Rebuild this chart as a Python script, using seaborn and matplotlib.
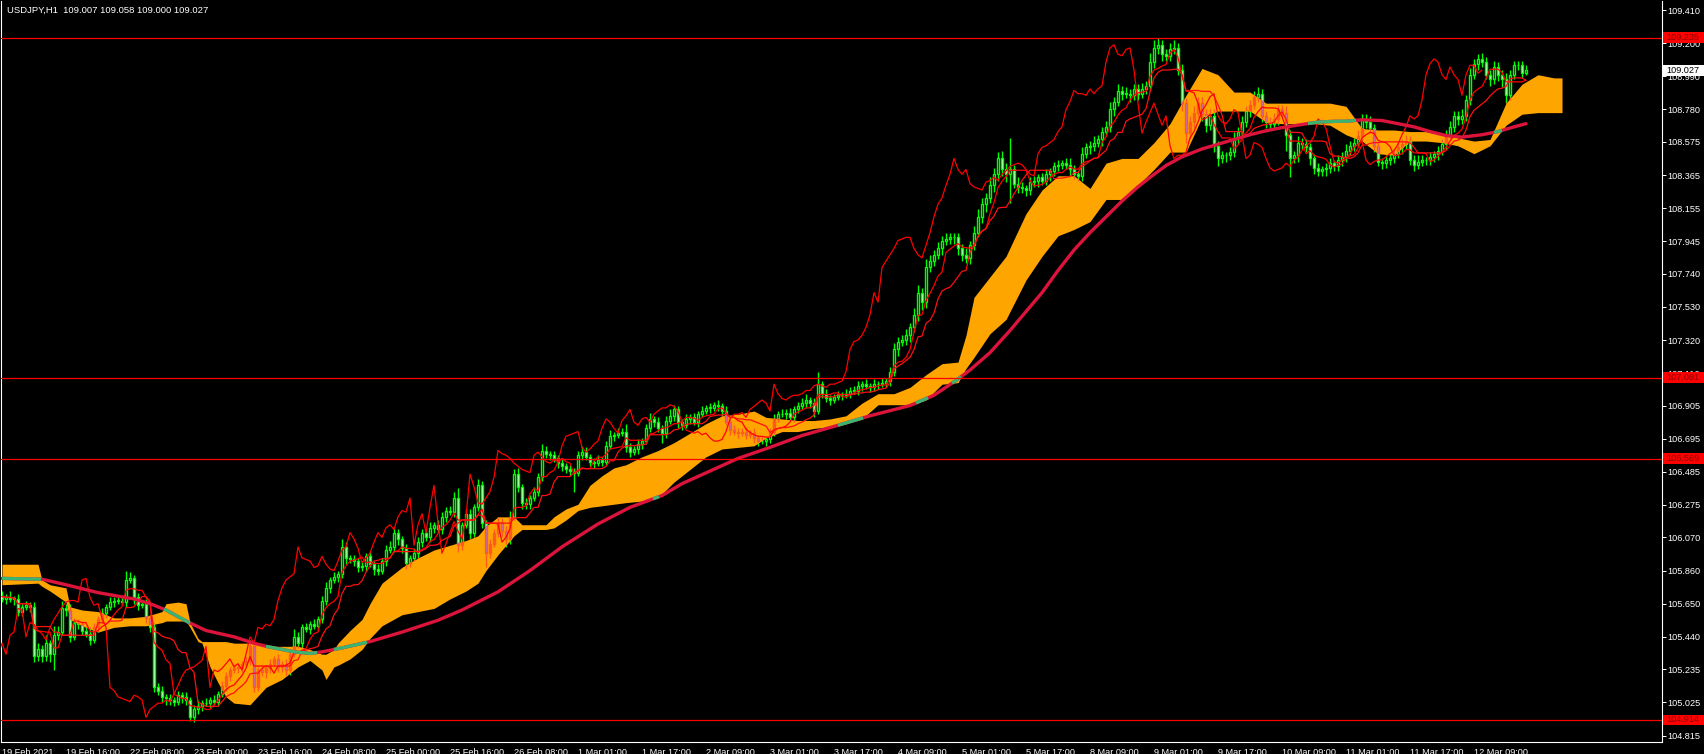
import numpy as np
import pandas as pd
import matplotlib
matplotlib.use("Agg")
import matplotlib.pyplot as plt
import matplotlib.transforms as mtrans
from matplotlib.patches import Rectangle
import seaborn as sns

TITLE = "USDJPY,H1  109.007 109.058 109.000 109.027"
BASE = 104.0          # prices below are pips above this
first_open_pips = 170

# hourly closes, one per bar from 19 Feb 00:00 (pips above BASE)
close_pips = [
    168, 169, 168, 168, 160, 163, 164, 163, 132, 136,
    132, 140, 133, 145, 147, 162, 161, 144, 153, 152,
    148, 146, 142, 150, 155, 159, 163, 166, 167, 167,
    166, 180, 181, 169, 164, 165, 156, 150, 112, 110,
    106, 105, 104, 103, 107, 106, 104, 93, 98, 100,
    102, 102, 104, 103, 108, 113, 119, 123, 124, 125,
    127, 129, 138, 112, 123, 122, 124, 127, 130, 125,
    127, 123, 133, 144, 140, 150, 149, 152, 151, 155,
    167, 175, 180, 182, 184, 201, 194, 193, 192, 188,
    189, 195, 190, 187, 186, 192, 199, 201, 210, 206,
    200, 191, 194, 197, 204, 210, 207, 213, 215, 212,
    220, 224, 223, 232, 202, 215, 222, 210, 226, 240,
    216, 197, 203, 210, 217, 211, 206, 220, 247, 239,
    229, 228, 232, 236, 245, 262, 260, 259, 257, 254,
    252, 250, 249, 248, 259, 261, 258, 255, 254, 256,
    255, 265, 271, 272, 273, 274, 264, 261, 263, 266,
    268, 276, 282, 280, 276, 273, 281, 284, 288, 280,
    278, 282, 283, 280, 285, 287, 289, 289, 291, 290,
    287, 280, 275, 274, 273, 274, 272, 273, 270, 268,
    268, 269, 274, 282, 285, 285, 286, 283, 288, 290,
    292, 294, 292, 287, 304, 298, 295, 294, 296, 297,
    297, 298, 300, 300, 303, 304, 303, 302, 304, 304,
    305, 306, 312, 326, 331, 332, 335, 340, 348, 362,
    356, 378, 382, 386, 390, 395, 396, 397, 397, 390,
    386, 384, 392, 400, 410, 418, 422, 430, 437, 447,
    440, 437, 440, 431, 429, 428, 427, 432, 433, 435,
    433, 437, 439, 442, 443, 444, 443, 440, 437, 436,
    450, 454, 455, 457, 459, 464, 467, 478, 483, 490,
    488, 488, 487, 491, 488, 491, 493, 508, 517, 519,
    513, 512, 516, 517, 503, 482, 463, 470, 476, 482,
    475, 468, 474, 455, 447, 449, 449, 451, 460, 464,
    470, 477, 481, 486, 488, 474, 470, 469, 472, 478,
    476, 462, 447, 449, 457, 456, 454, 447, 441, 439,
    440, 441, 444, 442, 446, 448, 452, 455, 457, 461,
    472, 470, 466, 455, 445, 444, 446, 447, 450, 454,
    456, 458, 446, 443, 445, 446, 446, 448, 450, 452,
    456, 462, 467, 474, 472, 474, 484, 500, 507, 510,
    508, 500, 497, 505, 500, 497, 487, 500, 506, 506,
    501, 503,
]

# wick lengths above / below the body (pips)
up_wick = [
    3, 2, 4, 2, 3, 2, 3, 2, 3, 4, 3, 5, 2, 6, 4, 5, 3, 4, 3, 2,
    2, 3, 4, 3, 2, 3, 2, 3, 2, 2, 3, 6, 4, 2, 3, 2, 3, 2, 3, 3,
    3, 2, 3, 2, 3, 2, 3, 2, 3, 4, 2, 3, 2, 3, 2, 3, 3, 2, 3, 2,
    2, 3, 4, 3, 2, 3, 2, 3, 2, 3, 2, 3, 3, 5, 3, 2, 3, 2, 3, 2,
    3, 4, 2, 3, 2, 5, 3, 2, 3, 2, 3, 2, 3, 2, 3, 2, 3, 4, 3, 2,
    2, 3, 2, 3, 3, 2, 3, 4, 2, 3, 3, 2, 3, 4, 6, 2, 3, 3, 2, 4,
    3, 2, 3, 2, 3, 2, 3, 4, 3, 4, 2, 3, 2, 3, 3, 4, 3, 2, 3, 2,
    3, 2, 3, 2, 3, 4, 3, 2, 2, 3, 2, 3, 4, 2, 3, 2, 5, 3, 2, 3,
    2, 3, 4, 2, 3, 2, 3, 4, 3, 2, 2, 3, 2, 3, 2, 3, 2, 3, 2, 3,
    2, 3, 2, 3, 2, 2, 3, 2, 3, 2, 3, 2, 2, 3, 2, 3, 2, 3, 2, 3,
    3, 4, 2, 3, 8, 2, 3, 2, 2, 3, 2, 3, 2, 3, 3, 2, 3, 2, 3, 2,
    3, 2, 3, 4, 3, 3, 4, 3, 4, 5, 3, 5, 4, 3, 4, 3, 4, 3, 3, 3,
    3, 4, 3, 4, 5, 4, 3, 5, 4, 4, 5, 4, 20, 3, 4, 3, 2, 3, 3, 2,
    3, 3, 2, 3, 3, 2, 3, 4, 3, 2, 4, 3, 3, 4, 3, 3, 4, 5, 3, 4,
    3, 4, 3, 3, 3, 4, 3, 6, 5, 4, 3, 3, 4, 5, 3, 4, 3, 4, 4, 4,
    4, 3, 4, 4, 3, 3, 2, 3, 4, 3, 4, 3, 3, 4, 4, 3, 3, 3, 4, 3,
    3, 4, 3, 3, 4, 3, 3, 3, 3, 3, 2, 3, 3, 2, 3, 3, 4, 3, 3, 4,
    3, 3, 4, 3, 3, 2, 3, 3, 3, 4, 3, 4, 3, 3, 4, 3, 2, 3, 2, 3,
    3, 3, 4, 3, 3, 4, 3, 4, 3, 3, 4, 3, 3, 4, 3, 3, 4, 3, 3, 3,
    3, 3,
]
dn_wick = [
    2, 3, 2, 4, 3, 3, 2, 3, 4, 3, 4, 3, 5, 10, 3, 2, 4, 3, 2, 3,
    3, 2, 3, 2, 3, 2, 3, 2, 3, 2, 2, 3, 2, 4, 3, 2, 3, 3, 3, 3,
    3, 4, 3, 3, 2, 4, 3, 2, 3, 3, 3, 2, 3, 2, 3, 2, 3, 3, 2, 3,
    3, 2, 3, 3, 2, 3, 4, 3, 2, 3, 3, 4, 3, 2, 3, 3, 2, 3, 2, 3,
    2, 3, 3, 2, 3, 3, 4, 2, 3, 3, 2, 3, 2, 4, 3, 2, 3, 2, 3, 4,
    3, 4, 3, 2, 3, 3, 2, 3, 3, 2, 3, 3, 2, 3, 4, 3, 2, 4, 3, 2,
    3, 9, 3, 2, 3, 4, 5, 3, 2, 3, 4, 3, 3, 2, 3, 2, 3, 3, 2, 3,
    3, 2, 3, 12, 2, 3, 2, 3, 3, 2, 3, 2, 2, 3, 2, 2, 3, 3, 2, 3,
    3, 2, 2, 3, 2, 6, 3, 2, 3, 4, 3, 2, 3, 2, 3, 2, 2, 3, 2, 3,
    3, 2, 3, 2, 3, 2, 3, 2, 3, 3, 2, 3, 2, 3, 2, 2, 3, 2, 3, 2,
    2, 3, 3, 4, 2, 3, 2, 3, 2, 2, 3, 2, 3, 2, 3, 3, 2, 3, 2, 3,
    2, 3, 3, 3, 4, 3, 3, 4, 3, 4, 5, 4, 3, 3, 3, 4, 3, 3, 4, 4,
    4, 3, 4, 3, 3, 4, 5, 3, 4, 4, 4, 5, 18, 3, 4, 3, 4, 3, 3, 4,
    3, 3, 4, 3, 3, 3, 3, 4, 3, 3, 3, 3, 4, 3, 3, 4, 3, 3, 4, 3,
    4, 3, 4, 3, 4, 3, 3, 3, 4, 4, 4, 3, 3, 3, 3, 5, 6, 4, 4, 3,
    4, 4, 3, 4, 5, 3, 4, 3, 3, 4, 3, 3, 4, 3, 3, 4, 4, 3, 3, 4,
    3, 10, 12, 3, 4, 3, 3, 4, 4, 3, 3, 4, 3, 3, 3, 4, 3, 3, 3, 3,
    3, 4, 3, 4, 3, 4, 3, 3, 3, 3, 4, 3, 3, 4, 3, 3, 3, 3, 3, 4,
    3, 3, 3, 3, 4, 3, 3, 3, 3, 4, 3, 3, 4, 3, 4, 5, 5, 3, 3, 3,
    3, 1,
]

# slow moving average
ma_bar = [0, 10, 16, 24, 33, 37, 41, 46, 51, 58, 63, 66, 73, 77, 80, 85, 92, 100,
          109, 115, 124, 132, 140, 149, 157, 165, 170, 177, 184, 192, 200, 209,
          217, 227, 233, 238, 242, 247, 252, 256, 260, 264, 268, 272, 276, 280,
          284, 287, 291, 295, 300, 304, 308, 312, 316, 320, 325, 329, 333, 336,
          340, 345, 349, 353, 357, 361, 365, 370, 374, 378, 381]
ma_pips = [181, 180.5, 177, 172, 168, 165, 161, 154, 148, 144, 140, 138, 134.5,
           133.5, 134.5, 137, 141, 147, 154.5, 161, 172.5, 186, 201, 215.5, 226,
           233.5, 241, 249, 257, 264, 271.5, 278, 284, 290.5, 297, 305.5, 313,
           324, 338, 350, 362, 376, 389, 400, 410, 420, 429, 435, 442.5, 448,
           453, 456, 459, 462, 464.5, 466.5, 468.5, 470, 470.5, 470.5, 471.5,
           471, 469, 467, 464, 461.5, 460.5, 462, 464, 467, 469]

# kumo (cloud) upper / lower edge
kumo_bar = [0, 9, 10, 12, 16, 17, 20, 24, 28, 32, 36, 40, 41, 44, 46, 47, 49, 50,
            52, 54, 56, 58, 62, 66, 70, 74, 77, 80, 81, 83, 84, 87, 90, 92, 95,
            100, 104, 108, 112, 116, 119, 121, 124, 128, 130, 136, 138, 141, 144,
            147, 150, 153, 156, 160, 164, 168, 172, 176, 180, 184, 188, 191, 195,
            199, 203, 207, 211, 215, 219, 223, 227, 231, 235, 239, 241, 243, 247,
            251, 256, 260, 264, 268, 272, 276, 280, 284, 288, 292, 296, 300, 304,
            308, 312, 316, 320, 324, 328, 332, 336, 340, 344, 348, 352, 356, 360,
            364, 368, 372, 376, 380, 384, 388, 390]
kumo_top = [190, 190, 180, 177, 175, 163, 161, 160, 156, 156, 157, 160, 165, 166,
            165, 153, 143, 141, 141, 141, 141, 140, 140, 138, 138, 138, 136, 133,
            133, 136, 140, 148, 155, 165, 178, 188, 194, 199, 202, 205, 208, 214,
            220, 220, 215, 215, 220, 225, 228, 240, 246, 251, 253, 258, 262, 267,
            273, 279, 284, 285, 287, 283, 282, 281, 281, 282, 284, 292, 298, 298,
            302, 310, 317, 318, 335, 359, 372, 385, 412, 427, 436, 436, 428, 444,
            447, 447, 457, 469, 487, 504, 500, 489, 489, 482, 482, 482, 482, 482,
            480, 466, 465, 465, 464, 464, 462, 460, 458, 459, 482, 494, 500, 498,
            498]
kumo_bot = [177, 178, 176, 173, 166, 155, 151, 147, 150, 151, 151, 153, 154, 154,
            154, 150, 141, 140, 125, 115, 106, 102, 101, 112, 117, 125, 129, 123,
            117, 125, 126, 130, 136, 143, 151, 158, 160, 162, 168, 173, 178, 186,
            196, 208, 212, 212, 213, 218, 224, 226, 227, 228, 229, 230, 232, 242,
            250, 258, 263, 264, 265, 270, 274, 274, 276, 277, 279, 282, 291, 291,
            291, 294, 304, 305, 314, 321, 336, 345, 370, 385, 398, 402, 407, 421,
            421, 430, 440, 451, 451, 473, 477, 477, 477, 470, 469, 469, 469, 468,
            462, 458, 450, 449, 458, 458, 457, 455, 450, 455, 468, 475, 476, 476,
            476]

level_lines = [109.235, 107.081, 106.569, 104.914]
last_price = 109.027

ytick_vals = [109.410, 109.200, 108.990, 108.780, 108.575, 108.365, 108.155,
              107.945, 107.740, 107.530, 107.320, 107.110, 106.905, 106.695,
              106.485, 106.275, 106.070, 105.860, 105.650, 105.440, 105.235,
              105.025, 104.815]
ytick_labels = [f"{v:.3f}" for v in ytick_vals]

xtick_labels = ["19 Feb 2021", "19 Feb 16:00", "22 Feb 08:00", "23 Feb 00:00",
                "23 Feb 16:00", "24 Feb 08:00", "25 Feb 00:00", "25 Feb 16:00",
                "26 Feb 08:00", "1 Mar 01:00", "1 Mar 17:00", "2 Mar 09:00",
                "3 Mar 01:00", "3 Mar 17:00", "4 Mar 09:00", "5 Mar 01:00",
                "5 Mar 17:00", "8 Mar 09:00", "9 Mar 01:00", "9 Mar 17:00",
                "10 Mar 09:00", "11 Mar 01:00", "11 Mar 17:00", "12 Mar 09:00"]
xtick_bar = [16 * i for i in range(len(xtick_labels))]

TENKAN, KIJUN, CHIKOU_SHIFT = 5, 11, 11

# ---- build OHLC ----
bars = np.arange(len(close_pips))
close = BASE + np.array(close_pips) / 100.0
open_ = np.r_[BASE + first_open_pips / 100.0, close[:-1]]
body_lo = np.minimum(open_, close)
body_hi = np.maximum(open_, close)
high = body_hi + np.array(up_wick) / 100.0
low = body_lo - np.array(dn_wick) / 100.0
bull = close >= open_

hl = pd.DataFrame({"high": high, "low": low})
tenkan = (hl["high"].rolling(TENKAN, min_periods=1).max() + hl["low"].rolling(TENKAN, min_periods=1).min()) / 2
kijun = (hl["high"].rolling(KIJUN, min_periods=1).max() + hl["low"].rolling(KIJUN, min_periods=1).min()) / 2

ma = BASE + np.array(ma_pips) / 100.0
ktop = BASE + np.array(kumo_top) / 100.0
kbot = BASE + np.array(kumo_bot) / 100.0

# ---- figure ----
sns.set_theme(style="dark", rc={"axes.facecolor": "black", "figure.facecolor": "black",
                                "axes.edgecolor": "white", "axes.grid": False})
plt.rcParams["font.family"] = ["Liberation Sans", "DejaVu Sans"]

W, H = 1704, 754
fig = plt.figure(figsize=(W / 100, H / 100), dpi=100)
ax = fig.add_axes([1 / W, 12 / H, 1661 / W, 741 / H])
ax.set_facecolor("black")
ax.set_xlim(-0.25, 415)
ax.set_ylim(104.774, 109.467)


def draw_candles(z, wick_col, bull_face, bear_face, edge_col, clip=None):
    wl = ax.vlines(bars, low, high, colors=wick_col, linewidth=1.0, zorder=z)
    h = np.maximum(body_hi - body_lo, 0.003)
    faces = [bull_face if b else bear_face for b in bull]
    bb = ax.bar(bars, h, bottom=body_lo, width=0.6, color=faces,
                edgecolor=edge_col, linewidth=1.0, zorder=z + 0.1)
    if clip is not None:
        wl.set_clip_path(clip, ax.transData)
        for p in bb.patches:
            p.set_clip_path(clip, ax.transData)


draw_candles(2, "#00FF00", "black", "#EFFFEF", "#00FF00")

cloud = ax.fill_between(kumo_bar, ktop, kbot, color="#FFA500", linewidth=0, zorder=3)
cloud_path = cloud.get_paths()[0]
# candles seen through the cloud take on orange / violet tones
draw_candles(3.2, "#FF5A1E", "none", "#B46EF0", "#FF5A1E", clip=cloud_path)

sns.lineplot(x=bars - CHIKOU_SHIFT, y=close, ax=ax, color="#FF0000", linewidth=0.9,
             estimator=None, errorbar=None, zorder=4)
sns.lineplot(x=bars, y=tenkan.values, ax=ax, color="#FF0000", linewidth=0.9,
             estimator=None, errorbar=None, zorder=4)
sns.lineplot(x=bars, y=kijun.values, ax=ax, color="#FF1010", linewidth=0.9,
             estimator=None, errorbar=None, zorder=4)
sns.lineplot(x=ma_bar, y=ma, ax=ax, color="#DC143C", linewidth=2.4,
             estimator=None, errorbar=None, zorder=5)

# moving average turns green where it runs inside the cloud
xs = np.arange(0, ma_bar[-1] + 0.01, 0.25)
ys = np.interp(xs, ma_bar, ma)
inside = (ys <= np.interp(xs, kumo_bar, ktop)) & (ys >= np.interp(xs, kumo_bar, kbot))
ax.plot(xs, np.where(inside, ys, np.nan), color="#3CB371", linewidth=2.4, zorder=5.1,
        solid_capstyle="butt")

# ---- axes styling ----
for s in ["left", "right", "bottom"]:
    ax.spines[s].set_color("white")
    ax.spines[s].set_linewidth(0.8)
ax.spines["top"].set_visible(False)

ax.yaxis.tick_right()
ax.set_yticks(ytick_vals)
ax.set_yticklabels(ytick_labels)
ax.set_xticks(xtick_bar)
ax.set_xticklabels(xtick_labels, ha="left")
ax.tick_params(axis="y", colors="white", labelcolor="white", labelsize=6.6,
               length=3, width=0.7, pad=1, direction="out", right=True, left=False)
ax.tick_params(axis="x", colors="white", labelcolor="white", labelsize=6.6,
               length=3, width=0.7, pad=1.5, direction="out")
ax.set_xlabel("")
ax.set_ylabel("")

ax.text(6 / 1661, 1 - 9 / 741, TITLE, transform=ax.transAxes, color="white",
        fontsize=6.8, va="center", ha="left")

# horizontal levels with price tags on the scale
trans = mtrans.blended_transform_factory(ax.transAxes, ax.transData)
box_h = 10.5 / (741 / (109.467 - 104.774))
for lvl in level_lines:
    ax.axhline(lvl, color="#FF0000", linewidth=0.9, zorder=6)
    ax.add_patch(Rectangle((1.0006, lvl - box_h / 2), 0.0247, box_h, transform=trans,
                           facecolor="#FF0000", edgecolor="none", clip_on=False, zorder=10))
    ax.text(1.0028, lvl, f"{lvl:.3f}", transform=trans, color="#8B0000", fontsize=6.6,
            va="center", ha="left", clip_on=False, zorder=11)

ax.add_patch(Rectangle((1.0006, last_price - box_h / 2), 0.0247, box_h, transform=trans,
                       facecolor="white", edgecolor="none", clip_on=False, zorder=10))
ax.text(1.0028, last_price, f"{last_price:.3f}", transform=trans, color="black",
        fontsize=6.6, va="center", ha="left", clip_on=False, zorder=11)

fig.savefig("out.png", dpi=100, facecolor="black")
plt.close(fig)
